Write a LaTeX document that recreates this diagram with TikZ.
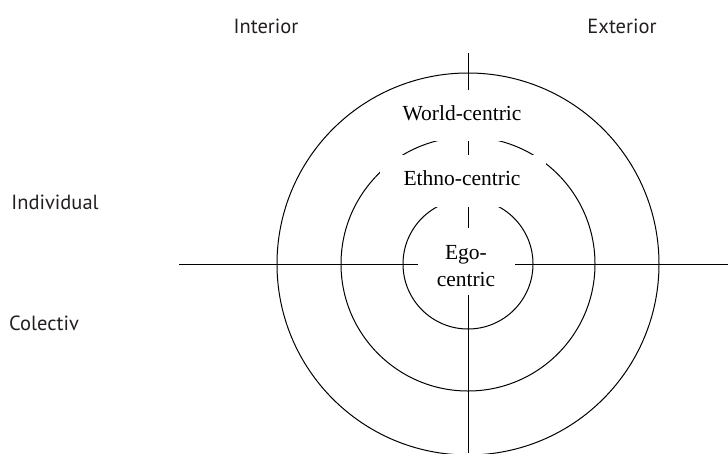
\documentclass[tikz,border=0pt]{standalone}
\usepackage{fontspec}
\setmainfont{Liberation Serif}
\newfontfamily\quadfont{PT Sans}
\usepackage{tikz}
\usetikzlibrary{positioning,calc}
\definecolor{QuadGray}{HTML}{231F20}

\begin{document}
\begin{tikzpicture}[x=1pt,y=1pt,line width=1pt,
    mask/.style={fill=white,draw=none},
    ringtext/.style={inner sep=0pt,align=center,font=\fontsize{21.5}{27}\selectfont},
    quadlabel/.style={text=QuadGray,inner sep=0pt,font=\quadfont\fontsize{20.5}{24}\selectfont}]
  \useasboundingbox (0,0) rectangle (728,-453);
  % centre and ends of the two axes
  \coordinate (c) at (468,-264);
  \coordinate (top) at (468,-53);
  \coordinate (bot) at (468,-453);
  \coordinate (west) at (179,-264);
  \coordinate (east) at (728,-264);
  % rings and axes
  \draw (c) circle[radius=65];
  \draw (c) circle[radius=127];
  \draw (c) circle[radius=191];
  \draw (top) -- (bot);
  \draw (west) -- (east);
  % white patches behind the ring names
  \fill[mask] (395,-90) rectangle (530,-141);
  \fill[mask] (380,-155) rectangle (546,-207);
  \fill[mask] (418,-228) rectangle (515,-295);
  % ring names
  \node[ringtext] (world) at (462,-113) {World-centric};
  \node[ringtext] (ethno) at (462,-178) {Ethno-centric};
  \node[ringtext] (ego) at (466,-266.5) {Ego-\\centric};
  % quadrant names
  \node[quadlabel] (interior) at (266,-26) {Interior};
  \node[quadlabel] (exterior) at (622,-26) {Exterior};
  \node[quadlabel] (individual) at (55,-202) {Individual};
  \node[quadlabel] (colectiv) at (44,-323) {Colectiv};
\end{tikzpicture}
\end{document}
